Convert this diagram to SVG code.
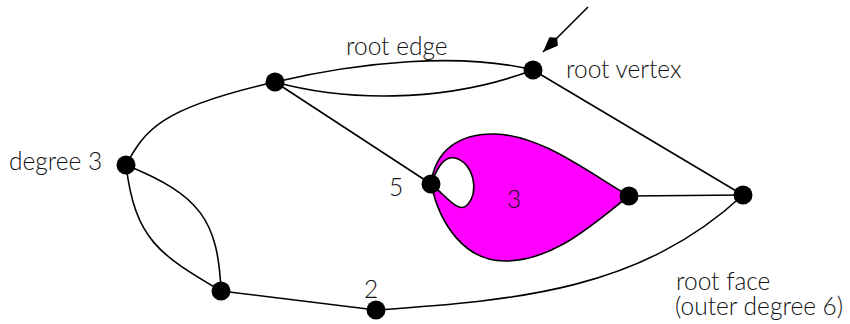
<svg xmlns="http://www.w3.org/2000/svg" width="850" height="324" viewBox="0 0 850 324">
<style>
.e{fill:none;stroke:#000;stroke-width:1.6}
.v{fill:#000}
.t{font-family:Lato,"Liberation Sans",sans-serif;font-size:24.5px;font-weight:300;fill:#111}
</style>
<defs>
<marker id="ah" markerUnits="userSpaceOnUse" markerWidth="30" markerHeight="30" refX="0" refY="0" viewBox="-22 -10 30 20" orient="auto">
<path d="M0,0 L-15,-6 L-20,0 L-15,6 Z" fill="#000"/>
</marker>
</defs>
<g id="face">
<path d="M431,184 C435,150 460,133 495,134 C540,135 585,170 629,196 C595,222 555,261 505,261 C465,261 440,225 431,184 Z" fill="#ff00ff" stroke="#000" stroke-width="1.6"/>
<path d="M431,184 C438,165 445,156 455,158 C473,162 481,193 466,206 C458,213 445,195 431,184 Z" fill="#fff" stroke="#000" stroke-width="1.6"/>
</g>
<g id="connectors">
<path class="e" d="M275,82 C360,62 460,52 533,70"/>
<path class="e" d="M275,82 C340,100 440,105 533,70"/>
<path class="e" d="M275,82 L431,184"/>
<path class="e" d="M533,70 L743,195"/>
<path class="e" d="M126,165 C145,130 160,108 275,82"/>
<path class="e" d="M126,165 C200,195 218,220 221,291"/>
<path class="e" d="M126,165 C135,240 160,255 221,291"/>
<path class="e" d="M221,291 L376,310"/>
<path class="e" d="M376,310 C520,300 640,290 743,195"/>
<path class="e" d="M629,196 L743,195"/>
<path class="e" d="M588,7 L543,52" marker-end="url(#ah)"/>
</g>
<g id="A"><circle class="v" cx="275" cy="82" r="9.5"/></g>
<g id="R"><circle class="v" cx="533" cy="70" r="9.5"/></g>
<g id="D"><circle class="v" cx="126" cy="165" r="9.5"/></g>
<g id="L"><circle class="v" cx="431" cy="184" r="9.5"/></g>
<g id="M"><circle class="v" cx="629" cy="196" r="9.5"/></g>
<g id="E"><circle class="v" cx="743" cy="195" r="9.5"/></g>
<g id="B"><circle class="v" cx="221" cy="291" r="9.5"/></g>
<g id="C"><circle class="v" cx="376" cy="310" r="9.5"/></g>
<g id="labels">
<text class="t" x="346" y="55">root edge</text>
<text class="t" x="566" y="78">root vertex</text>
<text class="t" x="9" y="170">degree 3</text>
<text class="t" x="389" y="196">5</text>
<text class="t" x="507" y="208">3</text>
<text class="t" x="364" y="298">2</text>
<text class="t" x="676" y="290">root face</text>
<text class="t" x="675" y="315">(outer degree 6)</text>
</g>
</svg>
